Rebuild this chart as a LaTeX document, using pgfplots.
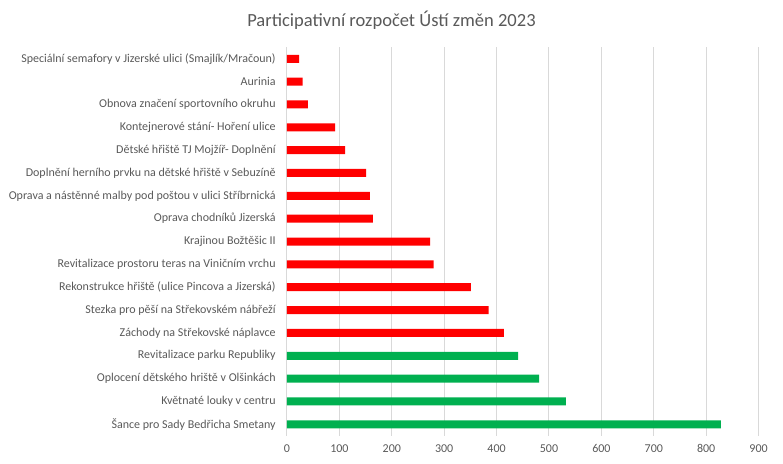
\documentclass[border=0pt]{standalone}
\usepackage{fontspec}
\setmainfont{Carlito}
\usepackage{pgfplots}
\pgfplotsset{compat=1.18}

\definecolor{txtgray}{HTML}{595959}
\definecolor{gridgray}{HTML}{D9D9D9}
\definecolor{barred}{HTML}{FF0000}
\definecolor{bargreen}{HTML}{00B050}

\begin{document}
\begin{tikzpicture}[x=1pt,y=1pt]
% 1 px of the reference = 0.75pt
\useasboundingbox (0,0) rectangle (587.25,348);
\node[font=\fontsize{13.9}{16}\selectfont, text=txtgray] at (293.6,333) {Participativní rozpočet Ústí změn 2023};
\begin{axis}[
    at={(215.25pt,21.2pt)},
    anchor=south west,
    scale only axis,
    width=353.7pt,
    height=291.3pt,
    xbar,
    bar width=6pt,
    xmin=0, xmax=900,
    ymin=-0.5, ymax=16.5,
    xtick={0,100,...,900},
    ytick={0,...,16},
    yticklabels={
        Šance pro Sady Bedřicha Smetany,
        Květnaté louky v centru,
        Oplocení dětského hriště v Olšinkách,
        Revitalizace parku Republiky,
        Záchody na Střekovské náplavce,
        Stezka pro pěší na Střekovském nábřeží,
        Rekonstrukce hřiště (ulice Pincova a Jizerská),
        Revitalizace prostoru teras na Viničním vrchu,
        Krajinou Božtěšic II,
        Oprava chodníků Jizerská,
        Oprava a nástěnné malby pod poštou v ulici Stříbrnická,
        Doplnění herního prvku na dětské hřiště v Sebuzíně,
        Dětské hřiště TJ Mojžíř- Doplnění,
        Kontejnerové stání- Hoření ulice,
        Obnova značení sportovního okruhu,
        Aurinia,
        Speciální semafory v Jizerské ulici (Smajlík/Mračoun)
    },
    axis y line*=left,
    axis x line*=bottom,
    x axis line style={draw=none},
    y axis line style={draw=gridgray, line width=0.75pt},
    xmajorgrids=true,
    grid style={gridgray, line width=0.75pt},
    major tick length=0pt,
    tick label style={font=\fontsize{9}{11}\selectfont, text=txtgray},
    /pgf/number format/assume math mode=true,
    xticklabel style={yshift=-3pt},
    yticklabel style={xshift=-5pt},
]
\addplot[fill=bargreen, draw=none, bar shift=0pt] coordinates {
    (828,0) (532,1) (481,2) (441,3)
};
\addplot[fill=barred, draw=none, bar shift=0pt] coordinates {
    (414,4) (385,5) (351,6) (280,7) (273,8) (164,9) (158,10)
    (151,11) (111,12) (92,13) (40,14) (30,15) (23,16)
};
\end{axis}
\end{tikzpicture}
\end{document}
